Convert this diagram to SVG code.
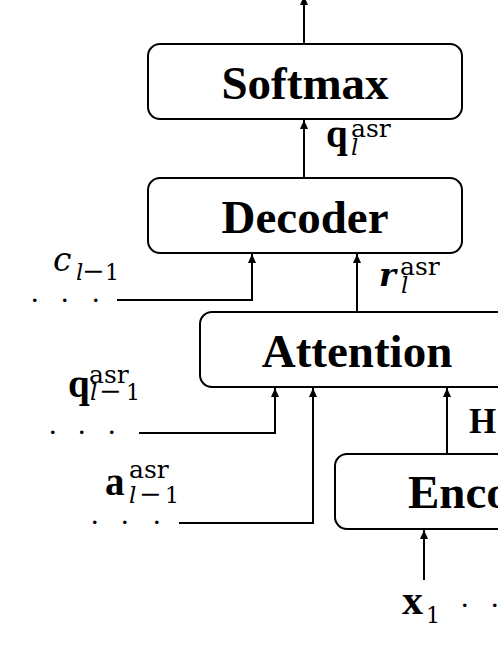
<svg xmlns="http://www.w3.org/2000/svg" width="498" height="645" viewBox="0 0 498 645">
<style>
.box{fill:#fff;stroke:#000;stroke-width:2}
.nl{font-family:"Liberation Serif",serif;font-weight:bold;font-size:47px;fill:#000}
.conn{fill:none;stroke:#000;stroke-width:2}
.mb{font-family:"Liberation Serif",serif;font-weight:bold;font-size:39px}
.sup{font-family:"DejaVu Serif",serif;font-size:25px}
.subi{font-family:"DejaVu Serif",serif;font-style:italic;font-size:23px}
.sub{font-family:"DejaVu Serif",serif;font-size:22px}
.minus{font-family:"DejaVu Serif",serif;font-size:27px}
.dots{font-family:"Liberation Serif",serif;font-size:30px}
</style>
<defs>
<marker id="ah" markerUnits="userSpaceOnUse" markerWidth="10" markerHeight="10" refX="9" refY="4" orient="auto">
<path d="M0,0 L9,4 L0,8 z" fill="#000"/>
</marker>
</defs>
<g id="connectors" class="conn">
<path d="M304,44 V-4" marker-end="url(#ah)"/>
<path d="M304,178 V120" marker-end="url(#ah)"/>
<path d="M117,300 H252 V254" marker-end="url(#ah)"/>
<path d="M357,312 V254" marker-end="url(#ah)"/>
<path d="M139,433 H275 V388" marker-end="url(#ah)"/>
<path d="M179,523 H313 V388" marker-end="url(#ah)"/>
<path d="M447,454 V388" marker-end="url(#ah)"/>
<path d="M424,580 V530" marker-end="url(#ah)"/>
</g>
<g id="softmax"><rect class="box" x="148" y="44" width="314" height="75" rx="12"/><text class="nl" x="305" y="99" text-anchor="middle">Softmax</text></g>
<g id="decoder"><rect class="box" x="148" y="178" width="314" height="75" rx="12"/><text class="nl" x="305" y="233" text-anchor="middle">Decoder</text></g>
<g id="attention"><rect class="box" x="200" y="312" width="314" height="75" rx="12"/><text class="nl" x="357" y="367" text-anchor="middle">Attention</text></g>
<g id="encoder"><rect class="box" x="335" y="454" width="314" height="75" rx="12"/><text class="nl" x="408" y="508">Encoder</text></g>
<g id="labels">
<text><tspan class="mb" x="326" y="147">q</tspan><tspan class="sup" x="351" y="137">asr</tspan><tspan class="subi" x="351" y="155">l</tspan></text>
<text><tspan style="font-family:'DejaVu Serif',serif;font-style:italic;font-size:33px" x="53" y="271">c</tspan><tspan class="subi" x="76" y="280">l</tspan><tspan class="minus" x="82" y="280">−</tspan><tspan class="sub" x="105" y="280">1</tspan></text>
<text class="dots" x="31 61 92" y="301.5">...</text>
<text><tspan style="font-family:'DejaVu Serif',serif;font-style:italic;font-weight:bold;font-size:32px" x="379" y="286">r</tspan><tspan class="sup" x="400" y="275">asr</tspan><tspan class="subi" x="401" y="293">l</tspan></text>
<text><tspan class="mb" x="68" y="397">q</tspan><tspan class="sup" x="89" y="383">asr</tspan><tspan class="subi" x="90" y="400">l</tspan><tspan class="minus" x="99" y="400">−</tspan><tspan class="sub" x="126" y="400">1</tspan></text>
<text class="dots" x="49 78 108" y="433.5">...</text>
<text><tspan class="mb" x="105" y="495">a</tspan><tspan class="sup" x="129" y="478">asr</tspan><tspan class="subi" x="129" y="503">l</tspan><tspan class="minus" x="139" y="503">−</tspan><tspan class="sub" x="165" y="503">1</tspan></text>
<text class="dots" x="91 121 153" y="523.5">...</text>
<text style="font-family:'Liberation Serif',serif;font-weight:bold;font-size:35px" x="469" y="433">H</text>
<text><tspan style="font-family:'Liberation Serif',serif;font-weight:bold;font-size:42px" x="402" y="614">x</tspan><tspan class="sub" x="426" y="623">1</tspan></text>
<text class="dots" x="461 491" y="606.5">..</text>
</g>
</svg>
